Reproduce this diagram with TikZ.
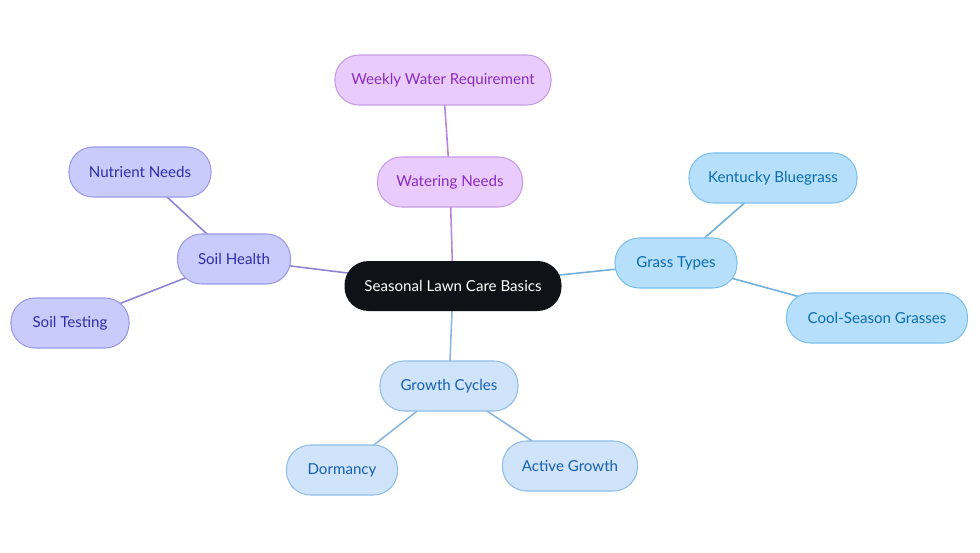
\documentclass[tikz,border=0pt]{standalone}
\usepackage{fontspec}
\setmainfont{Lato}
\usetikzlibrary{positioning,backgrounds}

\definecolor{roxoFill}{HTML}{E9CCFB}
\definecolor{roxoDraw}{HTML}{C89BE8}
\definecolor{roxoText}{HTML}{8A2BC2}
\definecolor{roxoLine}{HTML}{B585DA}
\definecolor{soloFill}{HTML}{C8CBFB}
\definecolor{soloDraw}{HTML}{9A9AE6}
\definecolor{soloText}{HTML}{2E2EA8}
\definecolor{soloLine}{HTML}{8E84D6}
\definecolor{gramaFill}{HTML}{B5DFFB}
\definecolor{gramaDraw}{HTML}{7DC0EC}
\definecolor{gramaText}{HTML}{0A6CB0}
\definecolor{gramaLine}{HTML}{6FB0DE}
\definecolor{cicloFill}{HTML}{CFE3FA}
\definecolor{cicloDraw}{HTML}{90BDE6}
\definecolor{cicloText}{HTML}{1660B0}
\definecolor{cicloLine}{HTML}{8AB5E2}
\definecolor{centroFill}{HTML}{0F1217}

\begin{document}
\begin{tikzpicture}[
    pill/.style={rectangle, rounded corners=0.48cm, minimum height=1cm, inner sep=0pt,
        line width=0.6pt, font=\fontsize{8.6}{10}\selectfont},
    roxo/.style={pill, fill=roxoFill, draw=roxoDraw, text=roxoText},
    solo/.style={pill, fill=soloFill, draw=soloDraw, text=soloText},
    grama/.style={pill, fill=gramaFill, draw=gramaDraw, text=gramaText},
    ciclo/.style={pill, fill=cicloFill, draw=cicloDraw, text=cicloText},
    ligacao/.style={line width=0.9pt}
]
    % Moldura
    \useasboundingbox (0,0) rectangle (19.6,-11.06);

    % No central
    \node[pill, fill=centroFill, text=white, minimum width=4.34cm] (centro) at (9.06,-5.72) {Seasonal Lawn Care Basics};

    % Ramo da agua
    \node[roxo, minimum width=2.9cm] (rega) at (9.0,-3.64) {Watering Needs};
    \node[roxo, minimum width=4.32cm] (semanal) at (8.86,-1.6) {Weekly Water Requirement};

    % Ramo do solo
    \node[solo, minimum width=2.26cm] (solo) at (4.68,-5.18) {Soil Health};
    \node[solo, minimum width=2.84cm] (nutrientes) at (2.8,-3.44) {Nutrient Needs};
    \node[solo, minimum width=2.36cm] (teste) at (1.4,-6.46) {Soil Testing};

    % Ramo das gramas
    \node[grama, minimum width=2.44cm] (gramas) at (13.52,-5.26) {Grass Types};
    \node[grama, minimum width=3.36cm] (kentucky) at (15.46,-3.56) {Kentucky Bluegrass};
    \node[grama, minimum width=3.62cm] (fria) at (17.54,-6.36) {Cool-Season Grasses};

    % Ramo dos ciclos
    \node[ciclo, minimum width=2.76cm] (ciclos) at (8.98,-7.72) {Growth Cycles};
    \node[ciclo, minimum width=2.22cm] (dormencia) at (6.84,-9.4) {Dormancy};
    \node[ciclo, minimum width=2.7cm] (ativo) at (11.4,-9.32) {Active Growth};

    % Ligacoes
    \begin{scope}[on background layer]
        \draw[ligacao, roxoLine] (centro.center) -- (rega.center) -- (semanal.center);
        \draw[ligacao, soloLine] (centro.center) -- (solo.center) -- (nutrientes.center);
        \draw[ligacao, soloLine] (solo.center) -- (teste.center);
        \draw[ligacao, gramaLine] (centro.center) -- (gramas.center) -- (kentucky.center);
        \draw[ligacao, gramaLine] (gramas.center) -- (fria.center);
        \draw[ligacao, cicloLine] (centro.center) -- (ciclos.center) -- (dormencia.center);
        \draw[ligacao, cicloLine] (ciclos.center) -- (ativo.center);
    \end{scope}
\end{tikzpicture}
\end{document}
